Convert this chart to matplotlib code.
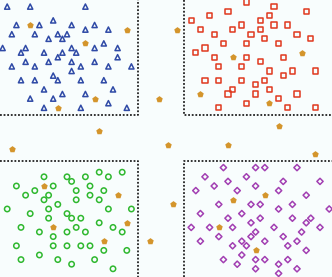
import numpy as np
import matplotlib
matplotlib.use('Agg')
import matplotlib.pyplot as plt

# grid positions (column, row), rows counted from the top
tri_x = [1, 6, 18, 11, 3, 8, 15, 20, 18, 23, 2, 7, 12, 14, 10, 13, 22,
         0, 5, 15, 20, 25, 4, 9, 13, 16, 12, 25, 5, 10, 15, 20,
         2, 7, 17, 23, 28, 15, 11, 4, 7, 12, 17, 22, 9, 24, 13, 18,
         6, 11, 23, 9, 17, 27]
tri_y = [0, 0, 0, 3, 4, 4, 4, 4, 5, 5, 6, 6, 6, 6, 7, 7, 8,
         9, 9, 9, 9, 9, 10, 10, 10, 10, 11, 11, 12, 12, 12, 12,
         13, 13, 13, 13, 13, 14, 15, 16, 16, 16, 16, 16, 18, 18, 19, 19,
         20, 20, 21, 22, 22, 22]

sq_x = [53, 59, 49, 66, 45, 58, 41, 56, 52, 59, 62, 43, 50, 56, 46, 54, 64,
        57, 67, 48, 53, 60, 44, 42, 46, 53, 61, 56, 47, 52, 58, 63, 68, 61,
        44, 47, 52, 57, 55, 50, 58, 49, 55, 64, 60, 53, 47, 62, 68]
sq_y = [-1, 0, 1, 1, 2, 2, 3, 3, 4, 4, 4, 5, 5, 5, 6, 6, 6,
        7, 7, 8, 8, 8, 9, 10, 11, 11, 11, 12, 13, 13, 14, 14, 14, 15,
        16, 16, 16, 16, 17, 18, 18, 19, 19, 19, 20, 21, 22, 22, 22]

circ_x = [21, 26, 9, 14, 18, 23, 15, 3, 11, 19, 7, 16, 22, 5, 10, 19,
          9, 16, 21, 12, 1, 10, 23, 28, 6, 14, 10, 15, 17, 21, 4, 16, 24,
          8, 14, 18, 26, 11, 3, 11, 14, 17, 19, 22, 27, 8, 4, 12, 20, 15, 24]
circ_y = [36, 36, 37, 37, 37, 37, 38, 39, 39, 39, 40, 40, 40, 41, 41, 41,
          42, 42, 42, 43, 44, 44, 44, 44, 45, 45, 46, 46, 46, 47, 48, 48, 48,
          49, 49, 49, 49, 50, 52, 52, 52, 52, 52, 53, 53, 54, 55, 55, 55, 56, 57]

dia_x = [48, 55, 57, 64, 44, 53, 49, 61, 69, 46, 55, 42, 51, 60, 66,
         47, 54, 56, 63, 60, 71, 43, 52, 49, 56, 63, 67, 54, 66,
         41, 45, 50, 59, 69, 55, 65, 47, 54, 61, 43, 52, 57, 64,
         50, 53, 62, 66, 52, 48, 55, 57, 62, 51, 60, 55, 64, 60]
dia_y = [35, 35, 35, 35, 37, 37, 38, 38, 38, 39, 39, 40, 40, 40, 41,
         43, 43, 43, 43, 44, 44, 45, 45, 46, 46, 46, 46, 47, 47,
         48, 48, 48, 48, 48, 49, 49, 50, 50, 50, 51, 51, 51, 51,
         52, 52, 52, 53, 54, 55, 55, 55, 55, 56, 56, 57, 57, 58]

pent_x = [6, 27, 18, 20, 34, 12, 21, 38, 65, 50, 43, 58, 60,
          2, 9, 25, 27, 11, 22, 32, 36, 49, 68, 57, 50, 37, 47, 55]
pent_y = [4, 5, 8, 20, 20, 22, 27, 5, 10, 11, 19, 21, 26,
          31, 39, 41, 47, 48, 51, 51, 30, 30, 32, 41, 42, 43, 48, 53]

# quadrant borders
left_edge, right_edge = 29.5, 39.5
top_edge, bottom_edge = 23.5, 33.5

fig = plt.figure(figsize=(3.32, 2.77), dpi=100)
fig.patch.set_facecolor('#f8fdfd')
ax = fig.add_axes([0, 0, 1, 1])
ax.set_facecolor('#f8fdfd')

step = 4.6
x0, y0 = 2.6, 6.6
ax.set_xlim(-x0 / step, (332 - x0) / step)
ax.set_ylim((277 - y0) / step, -y0 / step)
ax.axis('off')

xmin, xmax = ax.get_xlim()
ymax, ymin = ax.get_ylim()
dot = dict(color='#222222', lw=1.3, linestyle=(0, (1, 1)))
ax.plot([xmin, left_edge, left_edge], [top_edge, top_edge, ymin], **dot)
ax.plot([right_edge, right_edge, xmax], [ymin, top_edge, top_edge], **dot)
ax.plot([xmin, left_edge, left_edge], [bottom_edge, bottom_edge, ymax], **dot)
ax.plot([right_edge, right_edge, xmax], [ymax, bottom_edge, bottom_edge], **dot)

ax.scatter(tri_x, tri_y, marker='^', s=14, facecolors='none',
           edgecolors='#2f4aa6', linewidths=1.1)
ax.scatter(sq_x, sq_y, marker='s', s=13, facecolors='none',
           edgecolors='#e0391e', linewidths=1.1)
ax.scatter(circ_x, circ_y, marker='o', s=15, facecolors='none',
           edgecolors='#2fb82f', linewidths=1.1)
ax.scatter(dia_x, dia_y, marker='D', s=10, facecolors='none',
           edgecolors='#a23fb2', linewidths=1.1)
ax.scatter(pent_x, pent_y, marker='p', s=24, color='#d4952c', linewidths=0)

plt.savefig('out.png', dpi=100, facecolor=fig.get_facecolor())
